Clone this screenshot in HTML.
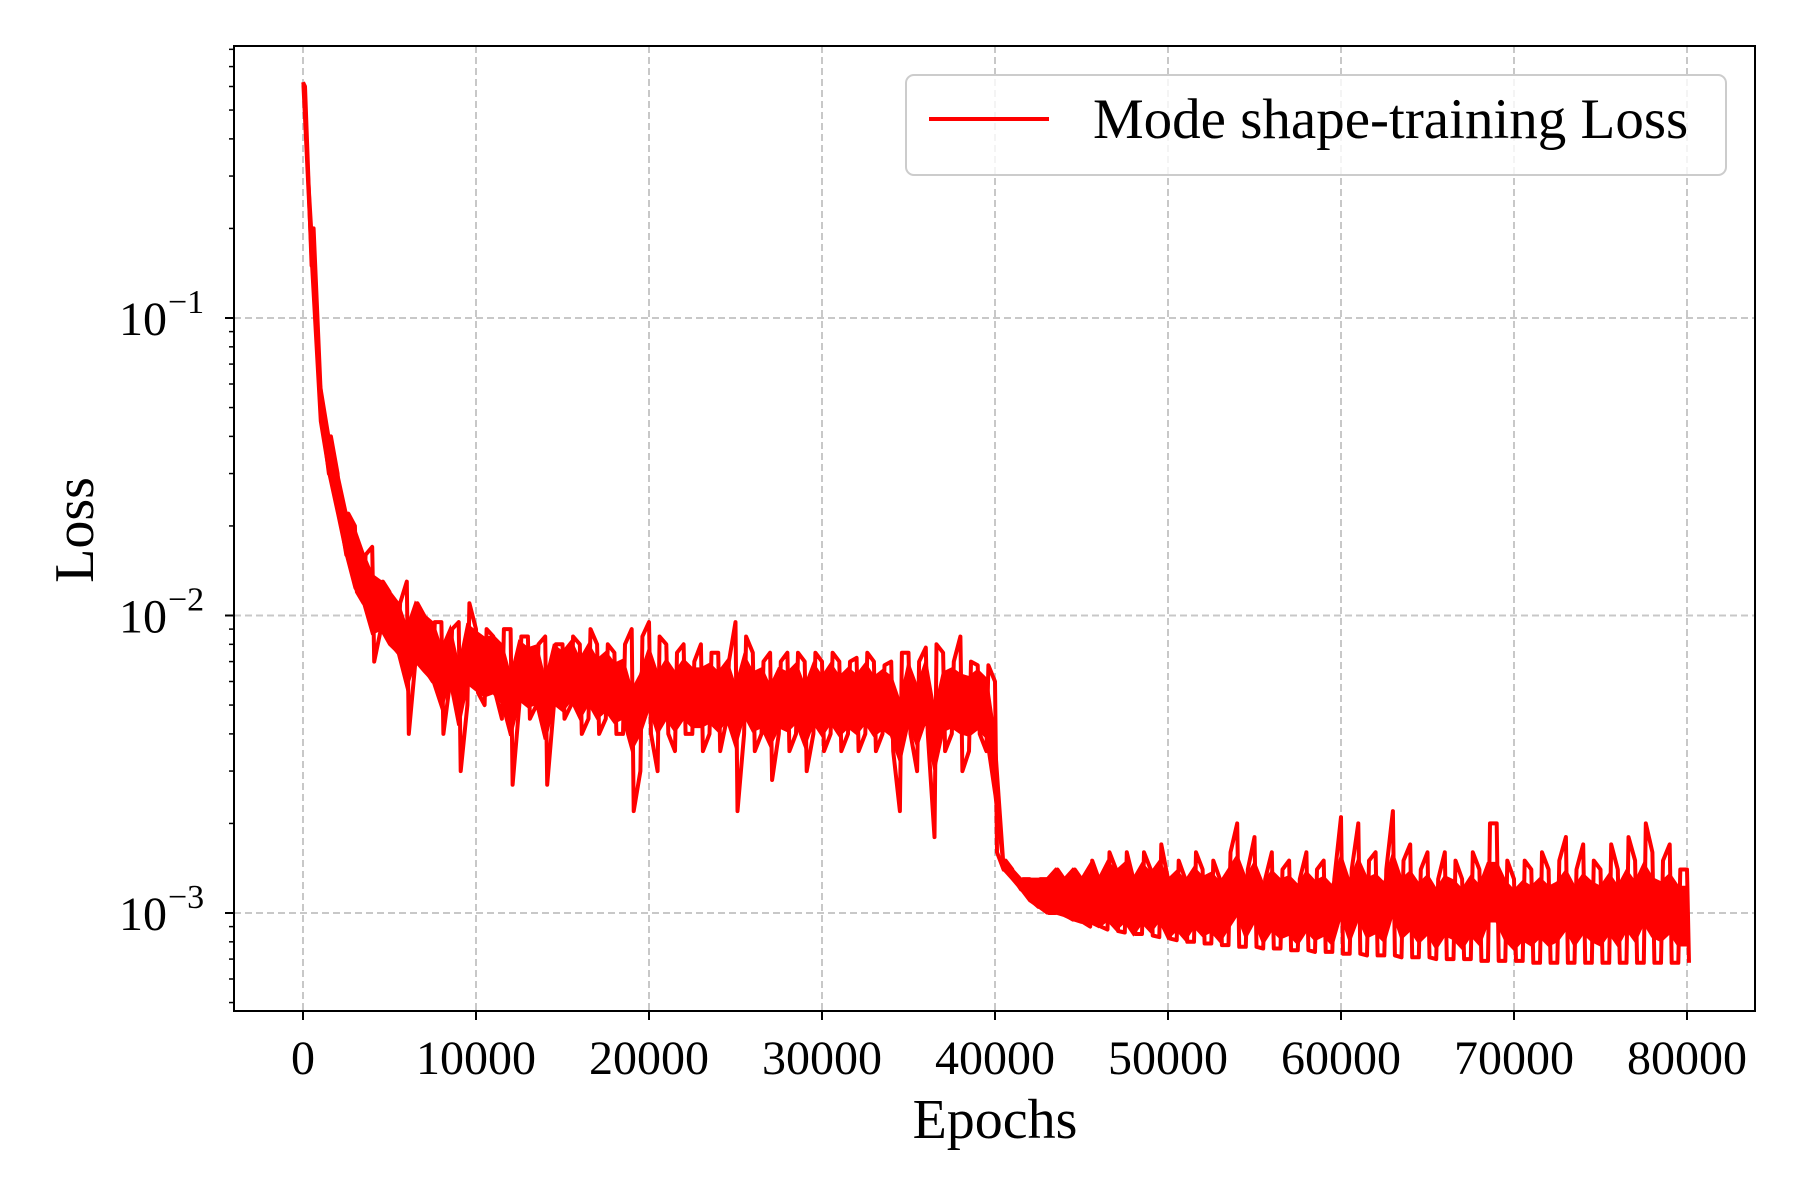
<!DOCTYPE html>
<html><head><meta charset="utf-8"><style>
html,body{margin:0;padding:0;background:#fff;}
svg{display:block;font-family:"Liberation Serif","DejaVu Serif",serif;}
</style></head><body>
<svg id="chart" width="1800" height="1200" viewBox="0 0 1800 1200">
<rect width="1800" height="1200" fill="#fff"/>
<g id="grid"></g>
<g id="series"></g>
<rect x="234" y="46" width="1521" height="965" fill="none" stroke="#000" stroke-width="2"/>
<g id="axes"></g>
<text x="995" y="1138" text-anchor="middle" font-size="56">Epochs</text>
<text transform="translate(93,530) rotate(-90)" text-anchor="middle" font-size="56">Loss</text>
<g>
<rect x="906" y="75" width="820" height="100" rx="8" fill="#fff" fill-opacity="0.8" stroke="#ccc" stroke-width="2"/>
<line x1="929" y1="119" x2="1049" y2="119" stroke="#f00" stroke-width="4"/>
<text x="1093" y="138" font-size="57">Mode shape-training Loss</text>
</g>
</svg>
<script>
const xTicks=[0,10000,20000,30000,40000,50000,60000,70000,80000];
const yDecades=[-1,-2,-3];
const epochStep=500;
const lossHigh=[0.62,0.2,0.06,0.04,0.03,0.022,0.02,0.016,0.017,0.013,0.012,0.011,0.013,0.011,0.01,0.0095,0.0095,0.009,0.0095,0.011,
0.009,0.009,0.0085,0.009,0.009,0.0085,0.0085,0.008,0.0085,0.008,0.008,0.0085,0.008,0.009,0.008,0.008,0.0075,0.008,0.009,0.0085,
0.0095,0.0085,0.008,0.0075,0.008,0.007,0.008,0.0075,0.0075,0.007,0.0095,0.0085,0.0075,0.007,0.0075,0.007,0.0075,0.0075,0.007,0.0075,
0.007,0.0075,0.007,0.007,0.0072,0.0075,0.007,0.0068,0.007,0.0075,0.0075,0.007,0.0078,0.008,0.0075,0.007,0.0085,0.007,0.0068,0.0068,
0.006,0.0015,0.0014,0.0013,0.0013,0.0013,0.0013,0.0014,0.0013,0.0014,0.0013,0.0015,0.0013,0.0016,0.0014,0.0016,0.0013,0.0016,0.0014,0.0017,
0.0013,0.0015,0.0013,0.0016,0.0014,0.0015,0.0013,0.0016,0.002,0.0014,0.0018,0.0013,0.0016,0.0014,0.0015,0.0013,0.0016,0.0014,0.0015,0.0013,
0.0021,0.0014,0.002,0.0015,0.0016,0.0014,0.0022,0.0015,0.0017,0.0014,0.0016,0.0013,0.0016,0.0015,0.0013,0.0016,0.0014,0.002,0.002,0.0015,
0.0013,0.0015,0.0014,0.0016,0.0014,0.0015,0.0018,0.0014,0.0017,0.0015,0.0014,0.0017,0.0014,0.0018,0.0015,0.002,0.0016,0.0015,0.0017,0.0014,0.0014];
const lossLow=[0.6,0.15,0.045,0.03,0.022,0.016,0.012,0.011,0.007,0.009,0.008,0.0075,0.004,0.007,0.0065,0.006,0.004,0.006,0.003,0.005,
0.0055,0.005,0.0055,0.0045,0.0027,0.005,0.0045,0.005,0.0027,0.005,0.0045,0.005,0.004,0.0045,0.004,0.0045,0.004,0.004,0.0022,0.003,
0.004,0.003,0.004,0.0035,0.004,0.004,0.0035,0.004,0.0035,0.0045,0.0022,0.004,0.0035,0.004,0.0028,0.004,0.0035,0.004,0.003,0.004,
0.0035,0.004,0.0035,0.004,0.0035,0.004,0.0035,0.004,0.0035,0.0022,0.004,0.003,0.004,0.0018,0.0035,0.004,0.003,0.0035,0.004,0.0035,
0.0016,0.0014,0.0013,0.0012,0.0011,0.00105,0.001,0.001,0.00098,0.00095,0.00093,0.0009,0.0009,0.00088,0.00087,0.00086,0.00085,0.00085,0.00084,0.00083,
0.00082,0.00081,0.0008,0.0008,0.00079,0.00079,0.00078,0.00078,0.00077,0.00077,0.00077,0.00076,0.00076,0.00076,0.00075,0.00075,0.00075,0.00074,0.00074,0.00074,
0.00073,0.00073,0.00073,0.00072,0.00072,0.00072,0.00072,0.00071,0.00071,0.00071,0.00071,0.0007,0.0007,0.0007,0.0007,0.0007,0.00069,0.00069,0.00069,0.00069,
0.00069,0.00069,0.00068,0.00068,0.00068,0.00068,0.00068,0.00068,0.00068,0.00068,0.00068,0.00068,0.00068,0.00068,0.00068,0.00068,0.00068,0.00068,0.00068,0.00068,0.00068];
const NS='http://www.w3.org/2000/svg';
const X0=303,X1=1687,E1=80000;
const xs=v=>X0+(X1-X0)*v/E1;
const YREF=318,DEC=297.5;
const ys=v=>YREF+(-1-Math.log10(v))*DEC;
function mk(tag,attrs,parent,txt){const e=document.createElementNS(NS,tag);for(const k in attrs)e.setAttribute(k,attrs[k]);if(txt!==undefined)e.textContent=txt;parent.appendChild(e);return e;}
const grid=document.getElementById('grid'),axes=document.getElementById('axes'),ser=document.getElementById('series');
xTicks.forEach(t=>{
  const x=xs(t);
  const g=mk('line',{x1:x,x2:x,y1:46,y2:1011,stroke:'#c8c8c8','stroke-width':2,'stroke-dasharray':'7,4'},grid);
  
  
  const tk=mk('line',{x1:x,x2:x,y1:1011,y2:1020,stroke:'#000','stroke-width':2},axes);
  
  
  const lb=mk('text',{x:x,y:1074,'text-anchor':'middle','font-size':48},axes,String(t));
  
  
});
yDecades.forEach(d=>{
  const y=ys(Math.pow(10,d));
  const g=mk('line',{x1:234,x2:1755,y1:y,y2:y,stroke:'#c8c8c8','stroke-width':2,'stroke-dasharray':'7,4'},grid);
  
  
  const tk=mk('line',{x1:225,x2:234,y1:y,y2:y,stroke:'#000','stroke-width':2},axes);
  
  
  const lb=mk('text',{x:167,y:y+17,'text-anchor':'end','font-size':48},axes,'10');
  
  
  const sp=mk('text',{x:168,y:y-5,'text-anchor':'start','font-size':34},axes,'\u2212'+(-d));
  
  
});
for(let d=-4;d<=0;d++){for(let m=2;m<=9;m++){const v=m*Math.pow(10,d);const y=ys(v);if(y<46||y>1011)continue;
  const tk=mk('line',{x1:229,x2:234,y1:y,y2:y,stroke:'#000','stroke-width':1.5},axes);
  
  }}
// core band fill
let up=[],dn=[];
for(let i=0;i<lossHigh.length;i++){const x=xs(i*epochStep);const gm=Math.sqrt(lossHigh[i]*lossLow[i]);
  up.push(x.toFixed(1)+','+ys(Math.min(lossHigh[i],gm*1.25)).toFixed(1));
  dn.push(x.toFixed(1)+','+ys(Math.max(lossLow[i],gm/1.25)).toFixed(1));}
const band=mk('polygon',{points:up.concat(dn.reverse()).join(' '),fill:'#f00',stroke:'#f00','stroke-width':3},ser);


let pts=[];
for(let i=0;i<lossHigh.length;i++){const x=xs(i*epochStep);
  if(i%2===0){pts.push(x.toFixed(1)+','+ys(lossHigh[i]).toFixed(1));pts.push((x+2).toFixed(1)+','+ys(lossLow[i]).toFixed(1));}
  else{pts.push(x.toFixed(1)+','+ys(lossLow[i]).toFixed(1));pts.push((x+2).toFixed(1)+','+ys(lossHigh[i]).toFixed(1));}
}
const pl=mk('polyline',{points:pts.join(' '),fill:'none',stroke:'#f00','stroke-width':4,'stroke-linejoin':'round'},ser);


</script>
</body></html>
